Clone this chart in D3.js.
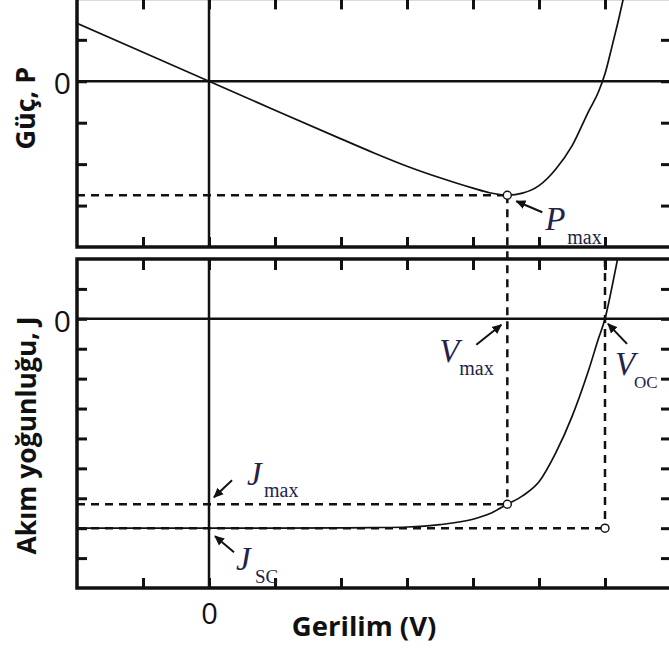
<!DOCTYPE html>
<html>
<head>
<meta charset="utf-8">
<script src="https://cdn.jsdelivr.net/npm/d3@7"></script>
<style>
  html, body { margin: 0; padding: 0; background: #fff; }
  svg { display: block; }
</style>
</head>
<body>
<svg id="chart" width="669" height="654"></svg>
<script>
// J–V curve of the cell (arbitrary units)
const voltage = [-2, -1, 0, 1, 2, 2.5, 3, 3.5, 4, 4.25, 4.52, 4.75, 5.0, 5.25, 5.5, 5.75, 5.9, 6.0, 6.1, 6.2, 6.3];
const currentDensity = [-7.0, -7.0, -7.0, -7.0, -6.99, -6.98, -6.96, -6.88, -6.70, -6.52, -6.2, -5.92, -5.45, -4.5, -3.27, -1.73, -0.67, 0, 1.0, 2.1, 3.3];

// P–V curve (arbitrary units)
const powerVoltage = [-2, -1, 0, 1, 2, 2.5, 3, 3.5, 4, 4.25, 4.52, 4.75, 5.0, 5.25, 5.5, 5.75, 5.9, 6.0, 6.1, 6.2, 6.3];
const power = [14, 7, 0, -7, -13.9, -17.3, -20.5, -23.3, -25.8, -26.9, -27.5, -27.0, -25.2, -21.3, -15.6, -7.3, -2.6, 1.8, 8.0, 14.5, 21.5];

// Characteristic points
const vMax = 4.52, jMax = -6.2, pMax = -27.5;
const vOC = 6.0, jSC = -7.0;

// Tick positions
const vTicks = [-1, 0, 1, 2, 3, 4, 5, 6];
const pTicks = [-30, -20, -10, 0, 10];
const jTicks = [-8, -7, -6, -5, -4, -3, -2, -1, 0, 1];

// Text
const xTitle = "Gerilim (V)";
const pTitle = "Güç, P";
const jTitle = "Akım yoğunluğu, J";

const svg = d3.select("#chart");
const ink = "#111";
const labelInk = "#23234a";

const x = d3.scaleLinear().domain([-2, 7]).range([77, 671]);
const yP = d3.scaleLinear().domain([-40, 20]).range([247, -1.6]);
const yJ = d3.scaleLinear().domain([-9, 2]).range([588, 259]);

const defs = svg.append("defs");
defs.append("marker")
  .attr("id", "arrow")
  .attr("viewBox", "0 0 10 10")
  .attr("refX", 9).attr("refY", 5)
  .attr("markerWidth", 10).attr("markerHeight", 10)
  .attr("markerUnits", "userSpaceOnUse")
  .attr("orient", "auto")
  .append("path").attr("d", "M0,0.5 L10,5 L0,9.5 Z").attr("fill", ink);

function clip(id, y) {
  defs.append("clipPath").attr("id", id)
    .append("rect")
    .attr("x", x(-2)).attr("y", y.range()[1])
    .attr("width", x(7) - x(-2)).attr("height", y.range()[0] - y.range()[1]);
}
clip("clipP", yP);
clip("clipJ", yJ);

function panel(y, yTicks) {
  const g = svg.append("g");
  // zero lines
  g.append("line")
    .attr("x1", x(-2)).attr("x2", x(7)).attr("y1", y(0)).attr("y2", y(0))
    .attr("stroke", ink).attr("stroke-width", 2.5);
  g.append("line")
    .attr("x1", x(0)).attr("x2", x(0)).attr("y1", y.range()[0]).attr("y2", y.range()[1])
    .attr("stroke", ink).attr("stroke-width", 2.5);

  const styleAxis = sel => {
    sel.select(".domain").remove();
    sel.selectAll(".tick line").attr("stroke", ink).attr("stroke-width", 3);
  };
  svg.append("g").attr("transform", `translate(${x(-2)},0)`)
    .call(d3.axisLeft(y).tickValues(yTicks).tickSize(-10).tickPadding(6)
      .tickFormat(d => d === 0 ? "0" : ""))
    .call(styleAxis)
    .call(s => s.selectAll("text")
      .attr("font-family", "'Open Sans', sans-serif").attr("font-size", 30)
      .attr("fill", ink).attr("dy", "0.42em"));
  svg.append("g").attr("transform", `translate(${x(7)},0)`)
    .call(d3.axisRight(y).tickValues(yTicks).tickSize(-10).tickFormat(""))
    .call(styleAxis);
  svg.append("g").attr("transform", `translate(0,${y.range()[1]})`)
    .call(d3.axisTop(x).tickValues(vTicks).tickSize(-11).tickFormat(""))
    .call(styleAxis);
  svg.append("g").attr("transform", `translate(0,${y.range()[0]})`)
    .call(d3.axisBottom(x).tickValues(vTicks).tickSize(-10).tickFormat(""))
    .call(styleAxis);
  // frame
  g.append("rect")
    .attr("x", x(-2)).attr("y", y.range()[1])
    .attr("width", x(7) - x(-2)).attr("height", y.range()[0] - y.range()[1])
    .attr("fill", "none").attr("stroke", ink).attr("stroke-width", 3.5);
}

panel(yP, pTicks);
panel(yJ, jTicks);

// x tick label "0"
svg.append("g").attr("transform", `translate(0,${yJ.range()[0]})`)
  .call(d3.axisBottom(x).tickValues([0]).tickSize(0).tickPadding(15).tickFormat(d3.format("d")))
  .call(s => s.select(".domain").remove())
  .call(s => s.selectAll("text")
    .attr("font-family", "'Open Sans', sans-serif").attr("font-size", 29).attr("fill", ink));

// curves
const lineP = d3.line().x((d, i) => x(powerVoltage[i])).y(d => yP(d)).curve(d3.curveMonotoneX);
svg.append("path").datum(power)
  .attr("clip-path", "url(#clipP)")
  .attr("d", lineP).attr("fill", "none").attr("stroke", ink).attr("stroke-width", 1.7);

const lineJ = d3.line().x((d, i) => x(voltage[i])).y(d => yJ(d)).curve(d3.curveMonotoneX);
svg.append("path").datum(currentDensity)
  .attr("clip-path", "url(#clipJ)")
  .attr("d", lineJ).attr("fill", "none").attr("stroke", ink).attr("stroke-width", 1.7);

// dashed guides
const guides = [
  [x(-2), yP(pMax), x(vMax), yP(pMax)],
  [x(vMax), yP(pMax), x(vMax), yJ(jMax)],
  [x(-2), yJ(jMax), x(vMax), yJ(jMax)],
  [x(-2), yJ(jSC), x(vOC), yJ(jSC)],
  [x(vOC), yJ.range()[1], x(vOC), yJ(jSC)]
];
svg.append("g").selectAll("line").data(guides).join("line")
  .attr("x1", d => d[0]).attr("y1", d => d[1]).attr("x2", d => d[2]).attr("y2", d => d[3])
  .attr("stroke", ink).attr("stroke-width", 2.5).attr("stroke-dasharray", "8,6");

// open circles at characteristic points
const pts = [[x(vMax), yP(pMax)], [x(vMax), yJ(jMax)], [x(vOC), yJ(jSC)]];
svg.append("g").selectAll("circle").data(pts).join("circle")
  .attr("cx", d => d[0]).attr("cy", d => d[1]).attr("r", 4)
  .attr("fill", "#fff").attr("stroke", ink).attr("stroke-width", 1.4);

// annotations: anchor point, arrow offsets, label offsets
const notes = [
  { px: x(vMax), py: yP(pMax), a: [35, 17, 9, 6], main: "P", sub: "max", mx: 38, my: 35, sx: 60, sy: 49, ss: 20 },
  { px: x(vMax), py: yJ(0), a: [-31, 26, -6, 6], main: "V", sub: "max", mx: -68, my: 43, sx: -48, sy: 56, ss: 20 },
  { px: x(vOC), py: yJ(0), a: [22, 25, 3, 5], main: "V", sub: "OC", mx: 10, my: 56, sx: 29, sy: 69, ss: 17 },
  { px: x(0), py: yJ(jMax), a: [23, -24, 5, -7], main: "J", sub: "max", mx: 38, my: -19, sx: 55, sy: -7, ss: 20 },
  { px: x(0), py: yJ(jSC), a: [25, 24, 6, 8], main: "J", sub: "SC", mx: 27, my: 42, sx: 46, sy: 55, ss: 19 }
];
const ng = svg.append("g");
notes.forEach(n => {
  ng.append("line")
    .attr("x1", n.px + n.a[0]).attr("y1", n.py + n.a[1])
    .attr("x2", n.px + n.a[2]).attr("y2", n.py + n.a[3])
    .attr("stroke", ink).attr("stroke-width", 2).attr("marker-end", "url(#arrow)");
  ng.append("text")
    .attr("x", n.px + n.mx).attr("y", n.py + n.my)
    .attr("font-family", "'Liberation Serif', 'Times New Roman', serif")
    .attr("font-style", "italic").attr("font-size", 33).attr("fill", labelInk)
    .text(n.main);
  ng.append("text")
    .attr("x", n.px + n.sx).attr("y", n.py + n.sy)
    .attr("font-family", "'Liberation Serif', 'Times New Roman', serif")
    .attr("font-size", n.ss).attr("fill", labelInk)
    .text(n.sub);
});

// axis titles
const titleFont = "'Open Sans', sans-serif";
svg.append("text")
  .attr("x", x(2.35)).attr("y", 636)
  .attr("text-anchor", "middle")
  .attr("font-family", titleFont).attr("font-weight", 700).attr("font-size", 27.5)
  .attr("fill", ink).text(xTitle);
svg.append("text")
  .attr("transform", `translate(35,${yP(-6.5)}) rotate(-90)`)
  .attr("text-anchor", "middle")
  .attr("font-family", titleFont).attr("font-weight", 700).attr("font-size", 27)
  .attr("fill", ink).text(pTitle);
svg.append("text")
  .attr("transform", `translate(36,${yJ(-3.9)}) rotate(-90)`)
  .attr("text-anchor", "middle")
  .attr("font-family", titleFont).attr("font-weight", 700).attr("font-size", 26.5)
  .attr("fill", ink).text(jTitle);
</script>
</body>
</html>
